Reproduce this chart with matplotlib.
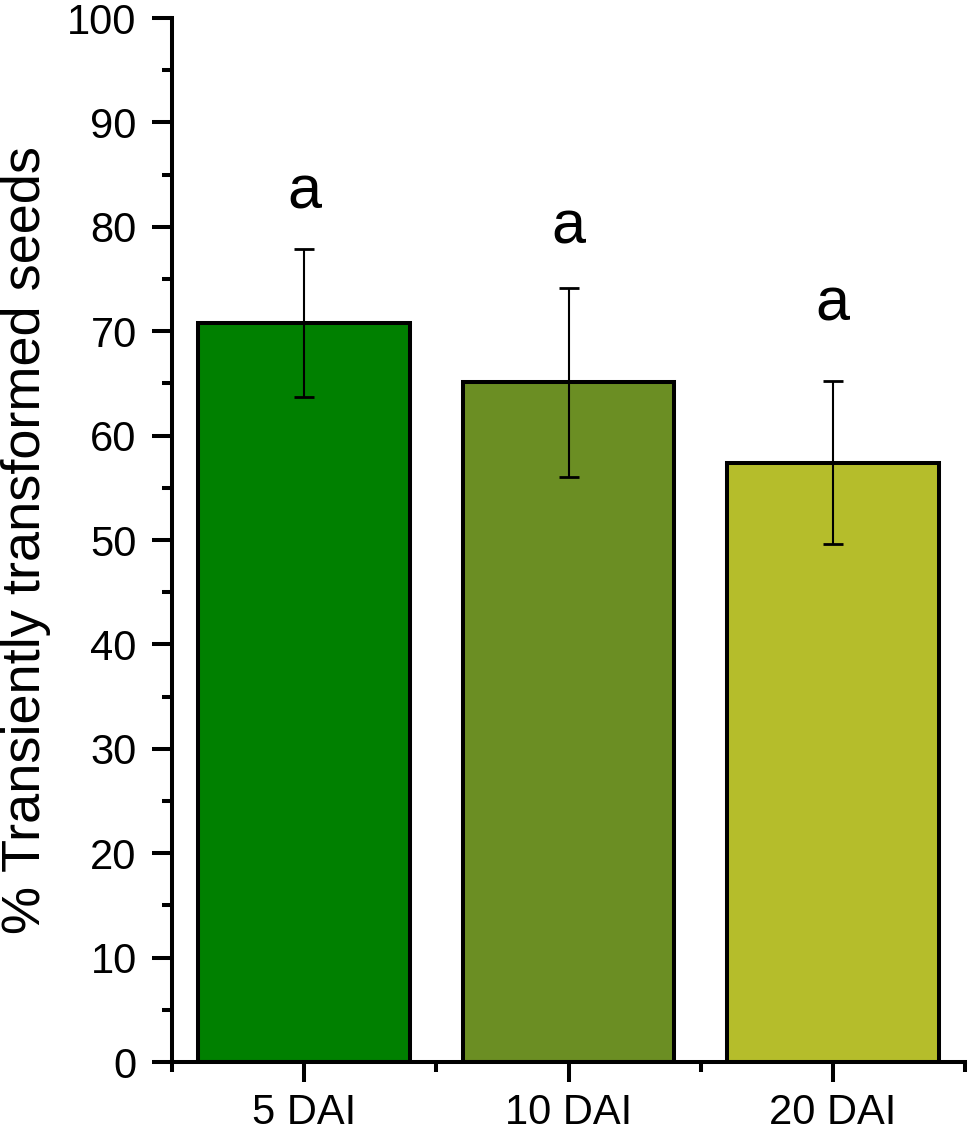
import matplotlib.pyplot as plt
from matplotlib.ticker import MultipleLocator

plt.rcParams['font.family'] = ['Liberation Sans', 'DejaVu Sans']

# data
groups = ['5 DAI', '10 DAI', '20 DAI']
means = [70.8, 65.1, 57.4]
errors = [7.1, 9.05, 7.8]
letters = ['a', 'a', 'a']
letter_y = [81.8, 78.4, 71.0]
colors = ['#008000', '#6B8E23', '#B5BD2B']

fig = plt.figure(figsize=(9.68, 11.32), dpi=100)
ax = fig.add_axes([172 / 968, 70 / 1132, 793 / 968, 1044 / 1132])

pos = list(range(1, len(groups) + 1))
ax.bar(pos, means, width=0.8, color=colors, edgecolor='black', linewidth=2.9, zorder=2)
ax.errorbar(pos, means, yerr=errors, fmt='none', ecolor='black', elinewidth=1.5,
            capsize=7.2, capthick=2, zorder=3)

for x, y, t in zip(pos, letter_y, letters):
    ax.text(x, y, t, ha='center', va='baseline', fontsize=44)

ax.set_xlim(0.5, 3.5)
ax.set_ylim(0, 100)
ax.set_xticks(pos)
ax.set_xticklabels(groups)
ax.xaxis.set_minor_locator(MultipleLocator(1, offset=0.5))
ax.yaxis.set_major_locator(MultipleLocator(10))
ax.yaxis.set_minor_locator(MultipleLocator(5))

for side in ['top', 'right']:
    ax.spines[side].set_visible(False)
for side in ['left', 'bottom']:
    ax.spines[side].set_linewidth(2.9)

ax.tick_params(which='major', length=14.4, width=2.9, labelsize=30, pad=11)
ax.tick_params(axis='x', which='major', pad=8)
ax.tick_params(which='minor', length=7.2, width=2.9)

ax.set_ylabel('% Transiently transformed seeds', fontsize=39, labelpad=12)

fig.savefig('out.png', dpi=100)
